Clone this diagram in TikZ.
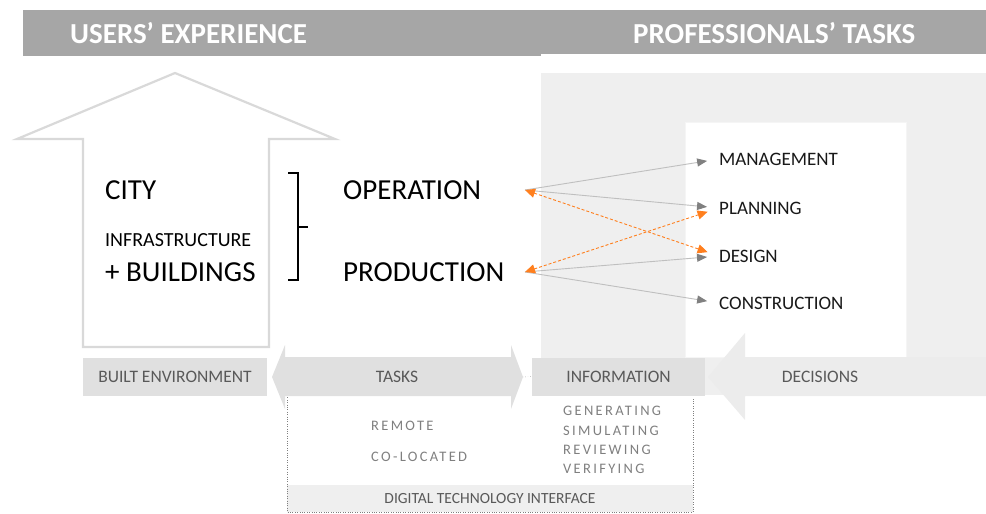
\documentclass[tikz,border=0pt]{standalone}
\usepackage{fontspec}
\setmainfont{Carlito}
\usetikzlibrary{calc}
\usetikzlibrary{arrows.meta,positioning}

\definecolor{headgray}{HTML}{A6A6A6}
\definecolor{panelgray}{HTML}{EFEFEF}
\definecolor{arrowgray}{HTML}{ECECEC}
\definecolor{boxgray}{HTML}{E0E0E0}
\definecolor{housegray}{HTML}{D9D9D9}
\definecolor{labelgray}{HTML}{595959}
\definecolor{softgray}{HTML}{7F7F7F}
\definecolor{linegray}{HTML}{BFBFBF}
\definecolor{tipgray}{HTML}{808080}
\definecolor{linkorange}{HTML}{FF7F1E}

\tikzset{
  headtext/.style={anchor=west,inner sep=0pt,text=white,font={\fontsize{29}{34}\selectfont\bfseries}},
  bigword/.style={anchor=west,inner sep=0pt,font={\fontsize{29}{34}\selectfont}},
  taskword/.style={anchor=west,inner sep=0pt,text=black!90,font={\fontsize{19}{23}\selectfont}},
  greybox/.style={rectangle,fill=boxgray,minimum height=38pt,inner sep=0pt,text=labelgray,font={\fontsize{17.5}{21}\selectfont}},
  spaced/.style={anchor=west,inner sep=0pt,text=softgray,font={\fontsize{14.5}{17}\selectfont\addfontfeatures{LetterSpace=16}}},
  grayarrow/.style={draw=linegray,line width=0.9pt,shorten >=12pt,-{Triangle[length=10pt,width=8pt,color=tipgray]}},
  orangearrow/.style={draw=linkorange,line width=0.9pt,dash pattern=on 3pt off 2pt,shorten >=12pt,{Triangle[length=10pt,width=9pt]}-{Triangle[length=10pt,width=9pt]}}
}

\begin{document}
\begin{tikzpicture}[x=1pt,y=-1pt]

\useasboundingbox (0,0) rectangle (986,514);
\coordinate (ORIGIN) at (0,0);

%draw header bar
\fill[headgray] ($(ORIGIN)+(23,10)$) rectangle ($(ORIGIN)+(541,56)$);
\fill[headgray] ($(ORIGIN)+(330,10)$) rectangle ($(ORIGIN)+(986,54)$);
\node[headtext] at ($(ORIGIN)+(70,33)$) (users) {USERS' EXPERIENCE};
\node[headtext] at ($(ORIGIN)+(633,33)$) (profs) {PROFESSIONALS' TASKS};

%%%%%%%

%draw professionals panel + white box
\fill[panelgray] ($(ORIGIN)+(541,73)$) rectangle ($(ORIGIN)+(986,395)$);
\node[rectangle,minimum width=221pt,minimum height=235pt,fill=white,draw=white!96!black,inner sep=0pt] at ($(ORIGIN)+(795.5,239.5)$) (TASKBOX) {};

%decisions arrow, pointing left
\fill[arrowgray] ($(ORIGIN)+(708,377)$) -- ++(37,-44) -- ++(0,24) -- ($(ORIGIN)+(986,357)$)
   -- ($(ORIGIN)+(986,396)$) -- ($(ORIGIN)+(745,396)$) -- ++(0,24) -- cycle;
\node[text=labelgray,font={\fontsize{17.5}{21}\selectfont}] at ($(ORIGIN)+(820,377)$) (decisions) {DECISIONS};

%%%%%%%

%digital technology interface (dotted frame)
\fill[panelgray] ($(ORIGIN)+(287,485)$) rectangle ($(ORIGIN)+(693,512)$);
\draw[dotted,softgray] ($(ORIGIN)+(287,395)$) -- ($(ORIGIN)+(287,512)$) -- ($(ORIGIN)+(693,512)$) -- ($(ORIGIN)+(693,397)$);
\node[text=labelgray,font={\fontsize{15.5}{19}\selectfont}] at ($(ORIGIN)+(490,499)$) (digital) {DIGITAL TECHNOLOGY INTERFACE};

%tasks double arrow
\fill[boxgray] ($(ORIGIN)+(272,377)$) -- ++(13,-32) -- ++(0,12) -- ($(ORIGIN)+(511,357)$) -- ++(0,-12)
   -- ($(ORIGIN)+(523,377)$) -- ($(ORIGIN)+(511,409)$) -- ++(0,-13) -- ($(ORIGIN)+(285,396)$) -- ++(0,13) -- cycle;
\node[text=labelgray,font={\fontsize{17.5}{21}\selectfont}] at ($(ORIGIN)+(397,377)$) (tasks) {TASKS};

\node[greybox,minimum width=173pt] at ($(ORIGIN)+(618.5,376.5)$) (information) {INFORMATION};
\node[greybox,minimum width=184pt] at ($(ORIGIN)+(175,376.5)$) (builtenv) {BUILT ENVIRONMENT};
\draw[dotted,softgray] (tasks.east -| 523,0) -- (information.west);

\node[spaced] at ($(ORIGIN)+(371,426)$) (remote) {REMOTE};
\node[spaced] at ($(ORIGIN)+(371,457)$) (coloc) {CO-LOCATED};
\node[spaced] at ($(ORIGIN)+(563,411)$) (generating) {GENERATING};
\node[spaced,below=9.5pt of generating.south west,anchor=north west] (simulating) {SIMULATING};
\node[spaced,below=9.5pt of simulating.south west,anchor=north west] (reviewing) {REVIEWING};
\node[spaced,below=9.5pt of reviewing.south west,anchor=north west] (verifying) {VERIFYING};

%%%%%%%

%draw house arrow
\draw[housegray,line width=2.2pt,fill=white] ($(ORIGIN)+(83,347)$) -- ++(0,-208) -- ++(-66,0)
   -- ($(ORIGIN)+(175,73)$) -- ($(ORIGIN)+(335,139)$) -- ++(-66,0) -- ++(0,208) -- cycle;

\node[bigword] at ($(ORIGIN)+(105,190)$) (city) {CITY};
\node[anchor=west,inner sep=0pt,font={\fontsize{20}{24}\selectfont}] at ($(ORIGIN)+(105,240)$) (infra) {INFRASTRUCTURE};
\node[bigword] at ($(ORIGIN)+(105,272)$) (buildings) {+ BUILDINGS};

%bracket
\draw[line width=1.1pt] ($(ORIGIN)+(288,173)$) -- ++(10,0) -- ++(0,107) -- ++(-10,0);
\draw[line width=1.1pt] ($(ORIGIN)+(298,227)$) -- ++(10,0);

\node[bigword] at ($(ORIGIN)+(343,190)$) (operation) {OPERATION};
\node[bigword] at ($(ORIGIN)+(343,272)$) (production) {PRODUCTION};

\coordinate (opEnd) at ($(ORIGIN)+(525,190)$);
\coordinate (prEnd) at ($(ORIGIN)+(525,272)$);

%professional tasks
\node[taskword] at ($(ORIGIN)+(719,159)$) (management) {MANAGEMENT};
\node[taskword] at ($(ORIGIN)+(719,208)$) (planning) {PLANNING};
\node[taskword] at ($(ORIGIN)+(719,256)$) (design) {DESIGN};
\node[taskword] at ($(ORIGIN)+(719,303)$) (construction) {CONSTRUCTION};

 \draw[grayarrow] (opEnd) -- (management.west);
 \draw[grayarrow] (opEnd) -- (planning.west);
 \draw[grayarrow] (prEnd) -- (design.west);
 \draw[grayarrow] (prEnd) -- (construction.west);
 \draw[orangearrow] (opEnd) -- (design.west);
 \draw[orangearrow] (prEnd) -- (planning.west);

\end{tikzpicture}
\end{document}
